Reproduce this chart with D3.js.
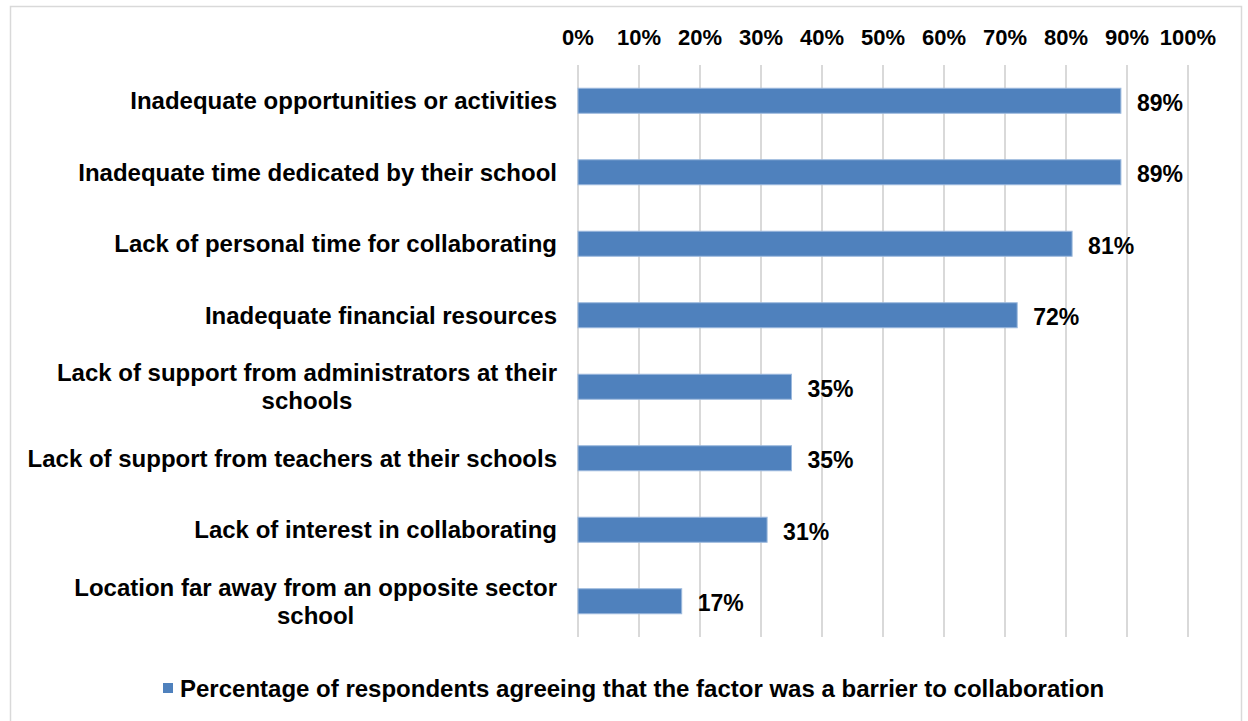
<!DOCTYPE html>
<html>
<head>
<meta charset="utf-8">
<script src="https://cdn.jsdelivr.net/npm/d3@7"></script>
<style>
  html, body { margin: 0; padding: 0; background: #fff; }
  svg { display: block; }
  text { font-family: "Liberation Sans", Arial, sans-serif; font-weight: bold; fill: #000; }
</style>
</head>
<body>
<svg id="chart" width="1248" height="721"></svg>
<script>
// Barriers to collaboration, share of respondents agreeing
const categories = [
  ["Inadequate opportunities or activities"],
  ["Inadequate time dedicated by their school"],
  ["Lack of personal time for collaborating"],
  ["Inadequate financial resources"],
  ["Lack of support from administrators at their", "schools"],
  ["Lack of support from teachers at their schools"],
  ["Lack of interest in collaborating"],
  ["Location far away from an opposite sector", "school"]
];
const values = [0.89, 0.89, 0.81, 0.72, 0.35, 0.35, 0.31, 0.17];
const tickValues = [0, 0.1, 0.2, 0.3, 0.4, 0.5, 0.6, 0.7, 0.8, 0.9, 1.0];
const legendLabel = "Percentage of respondents agreeing that the factor was a barrier to collaboration";

const svg = d3.select("#chart");

// Outer frame
svg.append("rect")
  .attr("x", 10.5).attr("y", 6.5)
  .attr("width", 1231).attr("height", 730)
  .attr("fill", "#fff").attr("stroke", "#d9d9d9").attr("stroke-width", 1.5);

const plot = { left: 578, right: 1188, top: 65, bottom: 637 };

const x = d3.scaleLinear().domain([0, 1]).range([plot.left, plot.right]);
const y = d3.scaleBand()
  .domain(d3.range(categories.length))
  .range([plot.top, plot.bottom])
  .paddingInner(0.65).paddingOuter(0.325);

// Vertical gridlines
svg.append("g").selectAll("line")
  .data(tickValues).join("line")
  .attr("x1", d => x(d)).attr("x2", d => x(d))
  .attr("y1", plot.top).attr("y2", plot.bottom)
  .attr("stroke", "#d9d9d9").attr("stroke-width", 2);

// Top axis labels
const fmt = d3.format(".0%");
svg.append("g").selectAll("text")
  .data(tickValues).join("text")
  .attr("x", d => x(d)).attr("y", 37)
  .attr("text-anchor", "middle").attr("dominant-baseline", "central")
  .attr("font-size", 22)
  .text(d => fmt(d));

// Bars
svg.append("g").selectAll("rect")
  .data(values).join("rect")
  .attr("x", x(0))
  .attr("y", (d, i) => y(i))
  .attr("width", d => x(d) - x(0))
  .attr("height", y.bandwidth())
  .attr("fill", "#4f81bd")
  .attr("stroke", "#9cb9dd").attr("stroke-width", 1);

// Value labels
svg.append("g").selectAll("text")
  .data(values).join("text")
  .attr("x", d => x(d) + 16)
  .attr("y", (d, i) => y(i) + y.bandwidth() / 2 + 2)
  .attr("dominant-baseline", "central")
  .attr("font-size", 23)
  .text(d => fmt(d));

// Category labels: block right-aligned to the axis, wrapped lines centred within it
const catG = svg.append("g");
const labelRight = plot.left - 21;
const lh = 28;
categories.forEach((lines, i) => {
  const cy = y(i) + y.bandwidth() / 2;
  const t = catG.append("text")
    .attr("font-size", 24);
  const spans = lines.map((ln, k) => t.append("tspan")
    .attr("y", cy + (k - (lines.length - 1) / 2) * lh)
    .attr("dominant-baseline", "central")
    .text(ln));
  const widest = d3.max(spans, s => s.node().getComputedTextLength());
  spans.forEach(s => s.attr("x", labelRight - widest / 2).attr("text-anchor", "middle"));
});

// Legend
const lg = svg.append("g");
lg.append("rect")
  .attr("x", 163).attr("y", 683).attr("width", 10).attr("height", 10)
  .attr("fill", "#4f81bd");
lg.append("text")
  .attr("x", 180).attr("y", 688)
  .attr("dominant-baseline", "central")
  .attr("font-size", 24)
  .text(legendLabel);
</script>
</body>
</html>
